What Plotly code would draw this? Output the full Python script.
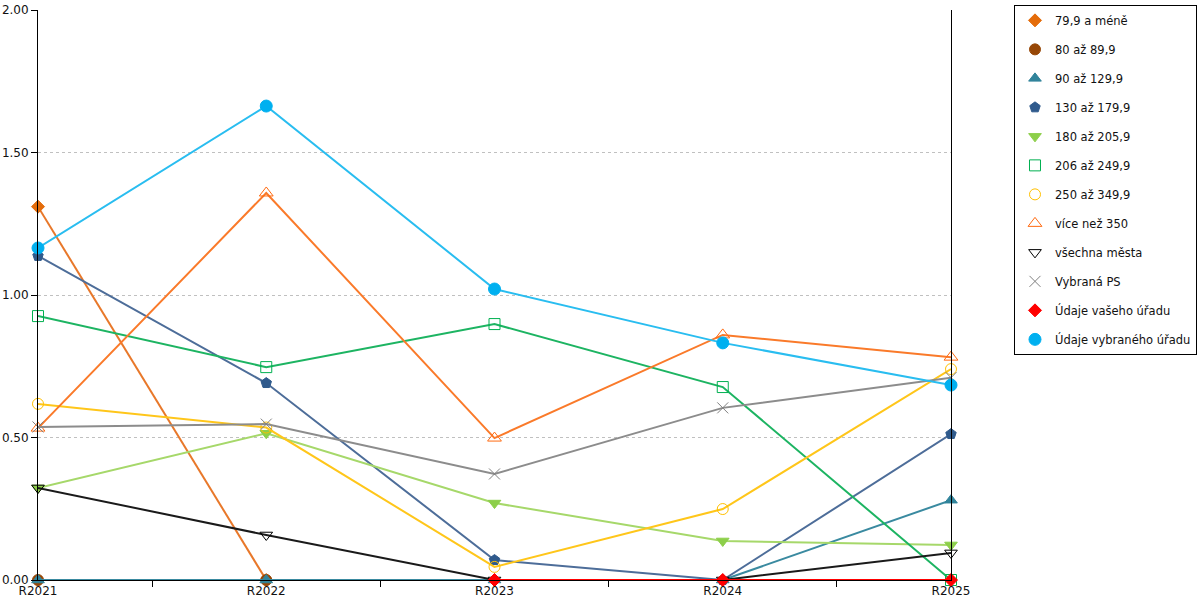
import plotly.graph_objects as go

categories = ["R2021", "R2022", "R2023", "R2024", "R2025"]

names = ["79,9 a méně", "80 až 89,9", "90 až 129,9", "130 až 179,9", "180 až 205,9",
         "206 až 249,9", "250 až 349,9", "více než 350", "všechna města", "Vybraná PS",
         "Údaje vašeho úřadu", "Údaje vybraného úřadu"]

s_79 = [1.31, 0.0, None, None, None]
s_80 = [0.0, 0.0, None, None, None]
s_90 = [0.0, 0.0, 0.0, 0.0, 0.28]
s_130 = [1.137, 0.691, 0.070, 0.0, 0.512]
s_180 = [0.323, 0.515, 0.270, 0.137, 0.123]
s_206 = [0.926, 0.747, 0.898, 0.677, 0.0]
s_250 = [0.618, 0.535, 0.046, 0.249, 0.740]
s_350 = [0.533, 1.358, 0.498, 0.860, 0.782]
s_all = [0.323, 0.158, 0.0, 0.0, 0.095]
s_ps = [0.537, 0.547, 0.372, 0.604, 0.710]
s_vas = [None, None, 0.0, 0.0, 0.0]
s_vyb = [1.165, 1.663, 1.021, 0.832, 0.684]

series = [s_79, s_80, s_90, s_130, s_180, s_206, s_250, s_350, s_all, s_ps, s_vas, s_vyb]

line_colors = ["#E8782A", "#974706", "#3A8AA0", "#4D6D99", "#A6D86A", "#1DB462",
               "#FFC61A", "#FA7A2A", "#1A1A1A", "#8C8C8C", "#FF0000", "#29BDF0"]
marker_colors = ["#E46C0A", "#974706", "#31849B", "#2F5A8C", "#8DCF4A", "#00B050",
                 "#FFC000", "#FF6A10", "#000000", "#808080", "#FF0000", "#00B0F0"]
symbols = ["diamond", "circle", "triangle-up", "pentagon", "triangle-down", "square-open",
           "circle-open", "triangle-up-open", "triangle-down-open", "x-thin-open", "diamond", "circle"]
sizes = [10, 11, 11, 11, 11, 11, 11, 12, 11, 11, 10, 12]

fig = go.Figure()
for i, (n, s) in enumerate(zip(names, series)):
    fig.add_trace(go.Scatter(
        x=categories, y=s, name=n, mode="lines",
        line=dict(color=line_colors[i], width=2),
        legendgroup=f"g{i}", showlegend=False, hoverinfo="skip",
    ))
    fig.add_trace(go.Scatter(
        x=categories, y=s, name=n, mode="markers", cliponaxis=False,
        marker=dict(symbol=symbols[i], color=marker_colors[i], size=sizes[i],
                    line=dict(color=marker_colors[i], width=1)),
        legendgroup=f"g{i}", showlegend=True,
    ))

fig.update_layout(
    width=1200, height=600,
    margin=dict(l=38, r=249, t=10, b=20, autoexpand=False),
    paper_bgcolor="white", plot_bgcolor="white",
    font=dict(family="DejaVu Sans", size=12, color="#111111"),
    showlegend=True,
    legend=dict(x=1.069, xanchor="left", y=1.009, yanchor="top",
                bordercolor="black", borderwidth=1, bgcolor="white",
                tracegroupgap=10, maxheight=1, font=dict(size=11.5, color="#111111"),
                itemwidth=30),
    xaxis=dict(type="category", range=[0, 4], tickson="boundaries", ticks="outside",
               ticklen=6, tickcolor="black", showline=True, linecolor="black",
               linewidth=1, showgrid=False, zeroline=False, automargin=False),
    yaxis=dict(range=[0, 2], tickvals=[0, 0.5, 1.0, 1.5, 2.0],
               ticktext=["0.00", "0.50", "1.00", "1.50", "2.00"],
               ticks="outside", ticklen=6, tickcolor="black",
               showline=True, linecolor="black", linewidth=1, mirror=True,
               showgrid=True, gridcolor="#C0C0C0", griddash="dot", gridwidth=1,
               zeroline=False, automargin=False),
)

fig.write_html("out.html", config={"displayModeBar": False},
               post_script="document.body.style.margin='0';document.body.style.overflow='hidden';")
